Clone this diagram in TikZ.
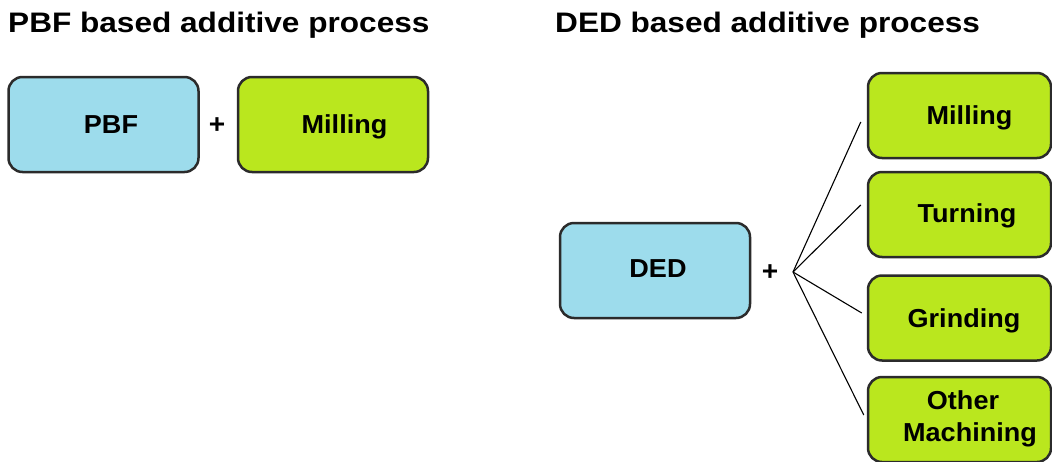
\documentclass[tikz,border=0pt]{standalone}
\usepackage{fontspec}
\setmainfont{Liberation Sans}[FakeStretch=1.04]
\newfontfamily\titlefont{Liberation Sans}[FakeStretch=1.12]
\definecolor{boxblue}{HTML}{9DDCEC}
\definecolor{boxgreen}{HTML}{BAE71E}
\definecolor{boxline}{HTML}{2B2B2B}
\tikzset{
  basebox/.style={draw=boxline, line width=2.5pt, rounded corners=14pt, inner sep=0pt},
  bluebox/.style={basebox, fill=boxblue, minimum width=190pt, minimum height=95pt},
  greenbox/.style={basebox, fill=boxgreen, minimum width=190pt, minimum height=95pt},
  sidebox/.style={basebox, fill=boxgreen, minimum width=183pt, minimum height=85pt},
  lbl/.style={font=\fontsize{26pt}{32pt}\selectfont\bfseries, text height=18.6pt, text depth=0pt, inner sep=0pt, anchor=center},
  plus/.style={font=\fontsize{27pt}{30pt}\selectfont\bfseries, inner sep=0pt},
  title/.style={font=\titlefont\fontsize{28.2pt}{34pt}\selectfont\bfseries, inner sep=0pt, anchor=base west},
  branch/.style={draw=black, line width=1.1pt}
}
\begin{document}
\begin{tikzpicture}[x=1pt,y=-1pt]
\useasboundingbox (0,0) rectangle (1052,461);
\clip (0,0) rectangle (1052,461);
% titles
\node[title] (t1) at (8,32) {PBF based additive process};
\node[title] (t2) at (555,32) {DED based additive process};
% PBF side
\node[bluebox, label={[lbl, xshift=7.5pt, yshift=0.5pt]center:PBF}] (pbf) at (103.5,124.5) {};
\node[plus] (p1) at (217,126) {+};
\node[greenbox, label={[lbl, xshift=11.5pt, yshift=0.5pt]center:Milling}] (mill1) at (333,124.5) {};
% DED side
\node[bluebox, label={[lbl, xshift=3pt, yshift=2pt]center:DED}] (ded) at (655,270.5) {};
\node[plus] (p2) at (770,273) {+};
\coordinate (j) at (793,272);
\node[sidebox, label={[lbl, xshift=10pt]center:Milling}] (m2) at (959.5,115.5) {};
\node[sidebox, label={[lbl, xshift=7.5pt, yshift=1pt]center:Turning}] (turn) at (959.5,214.5) {};
\node[sidebox, label={[lbl, xshift=4.5pt]center:Grinding}] (grind) at (959.5,318) {};
\node[sidebox, label={[lbl, xshift=3.5pt, yshift=19.5pt]center:Other},
  label={[lbl, xshift=10.5pt, yshift=-12.5pt]center:Machining}] (other) at (959.5,419.5) {};
% connectors
\draw[branch] (j) -- ([xshift=-6pt,yshift=-6.5pt]m2.west);
\draw[branch] (j) -- ([xshift=-6pt,yshift=9.5pt]turn.west);
\draw[branch] (j) -- ([xshift=-5pt,yshift=5pt]grind.west);
\draw[branch] (j) -- ([xshift=-3pt,yshift=4.5pt]other.west);
\end{tikzpicture}
\end{document}
